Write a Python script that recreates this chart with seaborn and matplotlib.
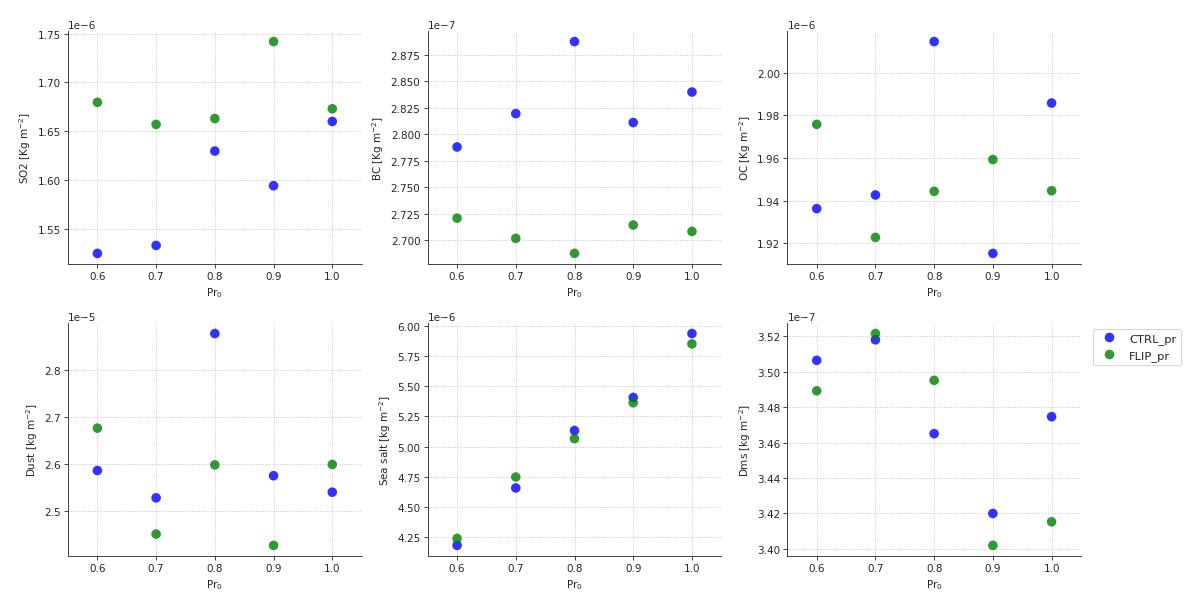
# Aerosol burden vs Pr0 for the CTRL and FLIP runs, one panel per species

import numpy as np
import pandas as pd
import matplotlib
matplotlib.use("Agg")
import matplotlib.pyplot as plt
import seaborn as sns

pr0 = [0.6, 0.7, 0.8, 0.9, 1.0]
runs = ["CTRL_pr", "FLIP_pr"]

so2_ctrl = [1.5245e-6, 1.5327e-6, 1.6296e-6, 1.594e-6, 1.660e-6]
so2_flip = [1.6796e-6, 1.657e-6, 1.663e-6, 1.742e-6, 1.673e-6]

bc_ctrl = [2.788e-7, 2.8194e-7, 2.8872e-7, 2.811e-7, 2.8397e-7]
bc_flip = [2.721e-7, 2.702e-7, 2.6878e-7, 2.7145e-7, 2.7085e-7]

oc_ctrl = [1.9363e-6, 1.9427e-6, 2.0146e-6, 1.9153e-6, 1.9858e-6]
oc_flip = [1.9758e-6, 1.9228e-6, 1.9444e-6, 1.9593e-6, 1.9447e-6]

dust_ctrl = [2.586e-5, 2.528e-5, 2.877e-5, 2.575e-5, 2.540e-5]
dust_flip = [2.676e-5, 2.451e-5, 2.598e-5, 2.427e-5, 2.599e-5]

salt_ctrl = [4.179e-6, 4.656e-6, 5.133e-6, 5.408e-6, 5.939e-6]
salt_flip = [4.237e-6, 4.747e-6, 5.066e-6, 5.364e-6, 5.853e-6]

dms_ctrl = [3.5064e-7, 3.518e-7, 3.465e-7, 3.420e-7, 3.4746e-7]
dms_flip = [3.4892e-7, 3.5215e-7, 3.4951e-7, 3.402e-7, 3.4153e-7]

species = [
    ("SO2 [Kg m$^{-2}$]", so2_ctrl, so2_flip),
    ("BC [Kg m$^{-2}$]", bc_ctrl, bc_flip),
    ("OC [Kg m$^{-2}$]", oc_ctrl, oc_flip),
    ("Dust [kg m$^{-2}$]", dust_ctrl, dust_flip),
    ("Sea salt [kg m$^{-2}$]", salt_ctrl, salt_flip),
    ("Dms [kg m$^{-2}$]", dms_ctrl, dms_flip),
]

palette = {"CTRL_pr": "blue", "FLIP_pr": "green"}

sns.set_style("ticks")
plt.rcParams["font.family"] = ["DejaVu Sans"]
plt.rcParams["font.size"] = 10

fig, axes = plt.subplots(2, 3, figsize=(16, 8.0933), dpi=75)
fig.subplots_adjust(left=0.0567, right=0.9008, top=0.9473, bottom=0.0824,
                    wspace=0.225, hspace=0.253)

for i, (label, ctrl, flip) in enumerate(species):
    ax = axes.flat[i]
    df = pd.DataFrame({
        "pr0": pr0 + pr0,
        "value": ctrl + flip,
        "run": [runs[0]] * len(pr0) + [runs[1]] * len(pr0),
    })
    last = i == len(species) - 1
    sns.scatterplot(data=df, x="pr0", y="value", hue="run", palette=palette,
                    s=85, alpha=0.8, linewidth=0, legend=last, ax=ax, zorder=3)
    ax.set_xlim(0.55, 1.05)
    ax.set_xticks(pr0)
    ax.set_xlabel("Pr$_0$", fontsize=10)
    ax.set_ylabel(label, fontsize=10)
    ax.tick_params(labelsize=10)
    ax.yaxis.get_offset_text().set_fontsize(10)
    ax.grid(True, linestyle=":", color="#bbbbbb", linewidth=0.8)
    sns.despine(ax=ax)
    if last:
        sns.move_legend(ax, "upper left", bbox_to_anchor=(1.02, 1), title=None,
                        fontsize=11)

fig.savefig("out.png", dpi=75)
plt.close(fig)
